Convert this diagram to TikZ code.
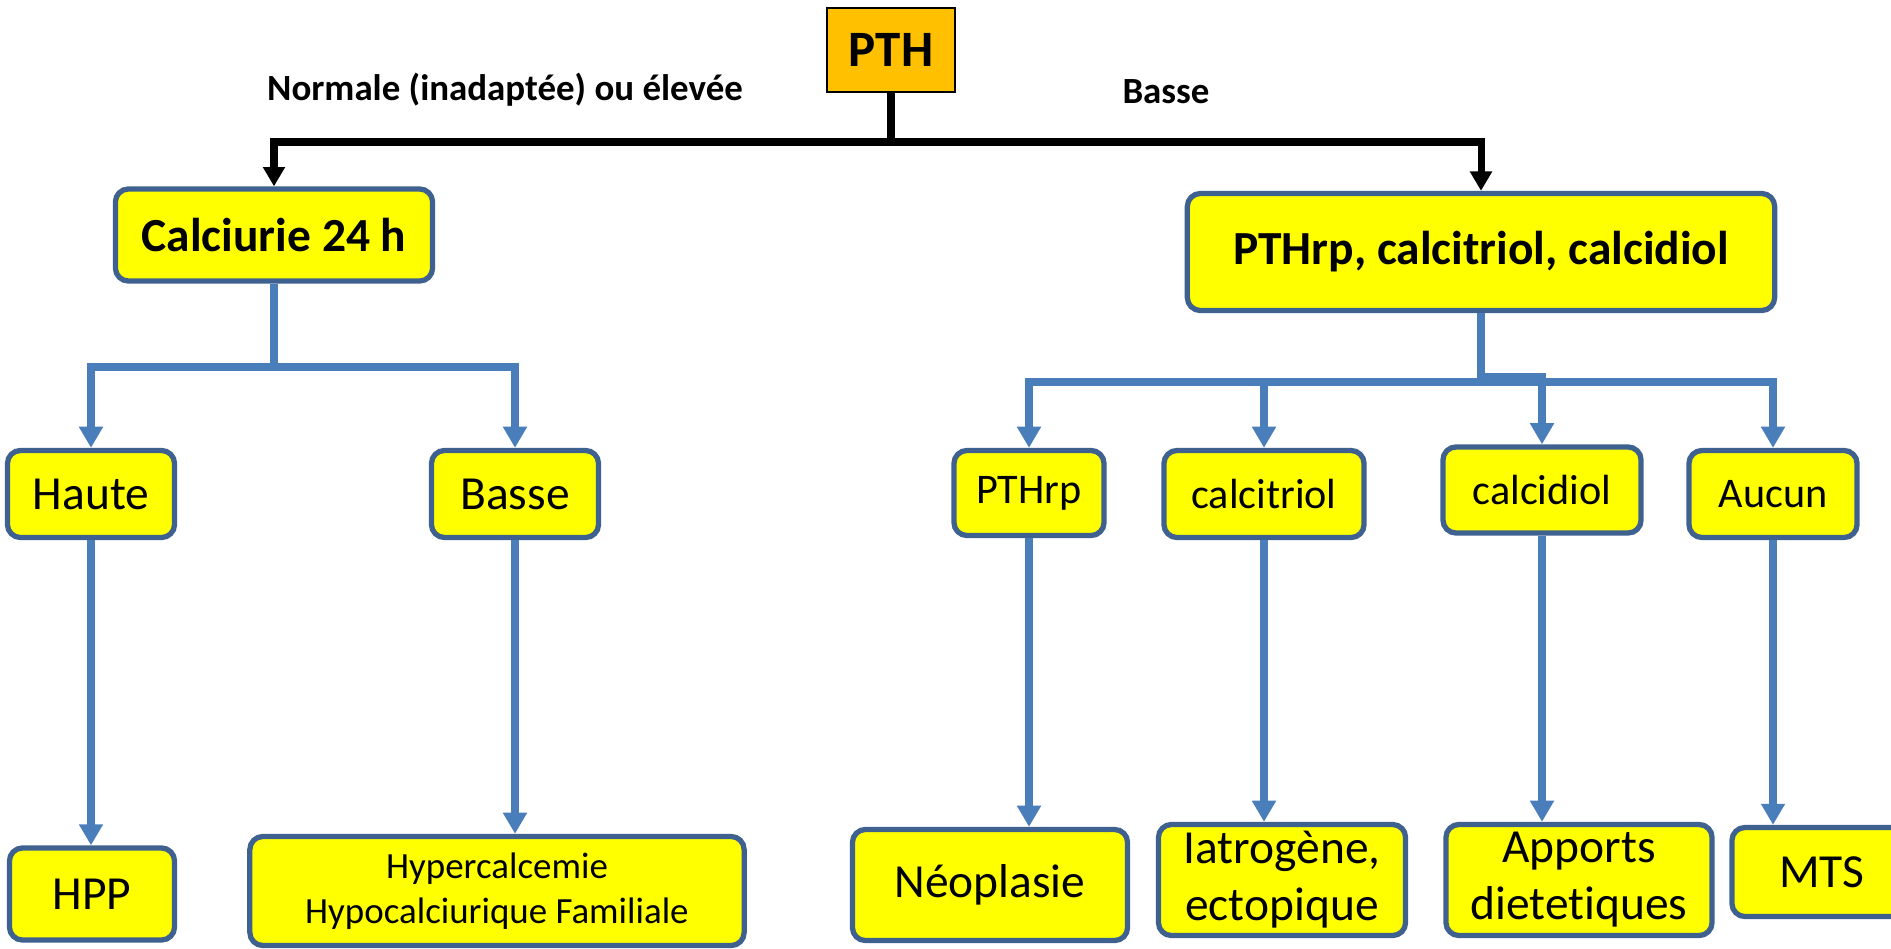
\documentclass[tikz,border=0pt]{standalone}
\usepackage{fontspec}
\setmainfont{Carlito}[Ligatures=CommonOff]
\usepackage{tikz}
\usetikzlibrary{arrows.meta}
\definecolor{jaune}{HTML}{FFFF00}
\definecolor{orange}{HTML}{FFC000}
\definecolor{bord}{HTML}{3F6190}
\definecolor{bleu}{HTML}{4A7EBB}
\tikzset{
	boite/.style={draw=bord, line width=1.5pt, fill=jaune, rounded corners=0.13cm, inner sep=0pt, align=center},
	noir/.style={line width=2pt, -{Triangle[width=6pt,length=5.5pt]}},
	fleche/.style={draw=bleu, line width=2.3pt, -{Triangle[width=6.5pt,length=6pt]}},
	etiq/.style={font=\bfseries\fontsize{10.5}{12.6}\selectfont}
}
\begin{document}
\begin{tikzpicture}[x=0.01cm, y=-0.01cm]
					\useasboundingbox (0,0) rectangle (1891,948);
					%\draw [help lines] (0,0) grid (1891,948);
					\node [draw, line width=0.6pt, fill=orange, minimum width=1.28cm, minimum height=0.84cm, font=\bfseries\fontsize{14.5}{17}\selectfont] (pth) at (891,50) {PTH};
					\node [boite, minimum width=3.17cm, minimum height=0.92cm, font=\bfseries\fontsize{13.5}{16.2}\selectfont] (calc) at (274,235) {Calciurie 24 h};
					\node [boite, minimum width=5.87cm, minimum height=1.17cm, font=\bfseries\fontsize{13.5}{16.2}\selectfont] (dosages) at (1481,252) {PTHrp, calcitriol, calcidiol};
					\node [etiq] (lnorm) at (505,90) {Normale (inadaptée) ou élevée};
					\node [etiq] (lbasse) at (1166,92) {Basse};
					%Calciurie
					\node [boite, minimum width=1.67cm, minimum height=0.87cm, font=\fontsize{13.5}{16.2}\selectfont] (haute) at (91,494) {Haute};
					\node [boite, minimum width=1.67cm, minimum height=0.87cm, font=\fontsize{13.5}{16.2}\selectfont] (basse) at (515,494) {Basse};
					\node [boite, minimum width=1.65cm, minimum height=0.92cm, font=\fontsize{13.5}{16.2}\selectfont] (hpp) at (92,894) {HPP};
					\node [boite, minimum width=4.94cm, minimum height=1.09cm, font=\fontsize{10.5}{12.6}\selectfont] (hhf) at (497,891) {Hypercalcemie\\Hypocalciurique Familiale};
					%Dosages
					\node [boite, minimum width=1.5cm, minimum height=0.85cm, font=\fontsize{12}{14.4}\selectfont] (pthrp) at (1029,493) {PTHrp};
					\node [boite, minimum width=2cm, minimum height=0.87cm, font=\fontsize{12}{14.4}\selectfont] (triol) at (1264,494) {calcitriol};
					\node [boite, minimum width=1.98cm, minimum height=0.86cm, font=\fontsize{12}{14.4}\selectfont] (diol) at (1542,490) {calcidiol};
					\node [boite, minimum width=1.68cm, minimum height=0.87cm, font=\fontsize{12}{14.4}\selectfont] (aucun) at (1773,494) {Aucun};
					\node [boite, minimum width=2.75cm, minimum height=1.11cm, font=\fontsize{13.5}{16.2}\selectfont] (neo) at (990,885) {Néoplasie};
					\node [boite, minimum width=2.47cm, minimum height=1.11cm, font=\fontsize{13.5}{16.2}\selectfont] (iatro) at (1282,880) {Iatrogène,\\ectopique};
					\node [boite, minimum width=2.66cm, minimum height=1.11cm, font=\fontsize{13.5}{16.2}\selectfont] (apports) at (1579,880) {Apports\\dietetiques};
					\node [boite, minimum width=1.8cm, minimum height=0.89cm, font=\fontsize{13.5}{16.2}\selectfont] (mts) at (1822,872) {MTS};
					%Connecteurs
					\coordinate (j0) at (891,142);
					\coordinate (j1) at (274,367);
					\coordinate (j2) at (1481,382);
					\coordinate (j3) at (1481,377);
					\draw [noir] (pth.south) -- (j0) -| (calc.north);
					\draw [noir] (j0) -| (dosages.north);
					\draw [fleche] (calc.south) -- (j1) -| (haute.north);
					\draw [fleche] (j1) -| (basse.north);
					\draw [fleche] (haute.south) -- (haute.south |- hpp.north);
					\draw [fleche] (basse.south) -- (basse.south |- hhf.north);
					\draw [fleche] (dosages.south) -- (j2) -| (pthrp.north);
					\draw [fleche] (j2) -| (triol.north);
					\draw [fleche] (j3) -| (diol.north);
					\draw [fleche] (j2) -| (aucun.north);
					\draw [fleche] (pthrp.south) -- (pthrp.south |- neo.north);
					\draw [fleche] (triol.south) -- (triol.south |- iatro.north);
					\draw [fleche] (diol.south) -- (diol.south |- apports.north);
					\draw [fleche] (aucun.south) -- (aucun.south |- mts.north);
\end{tikzpicture}
\end{document}
